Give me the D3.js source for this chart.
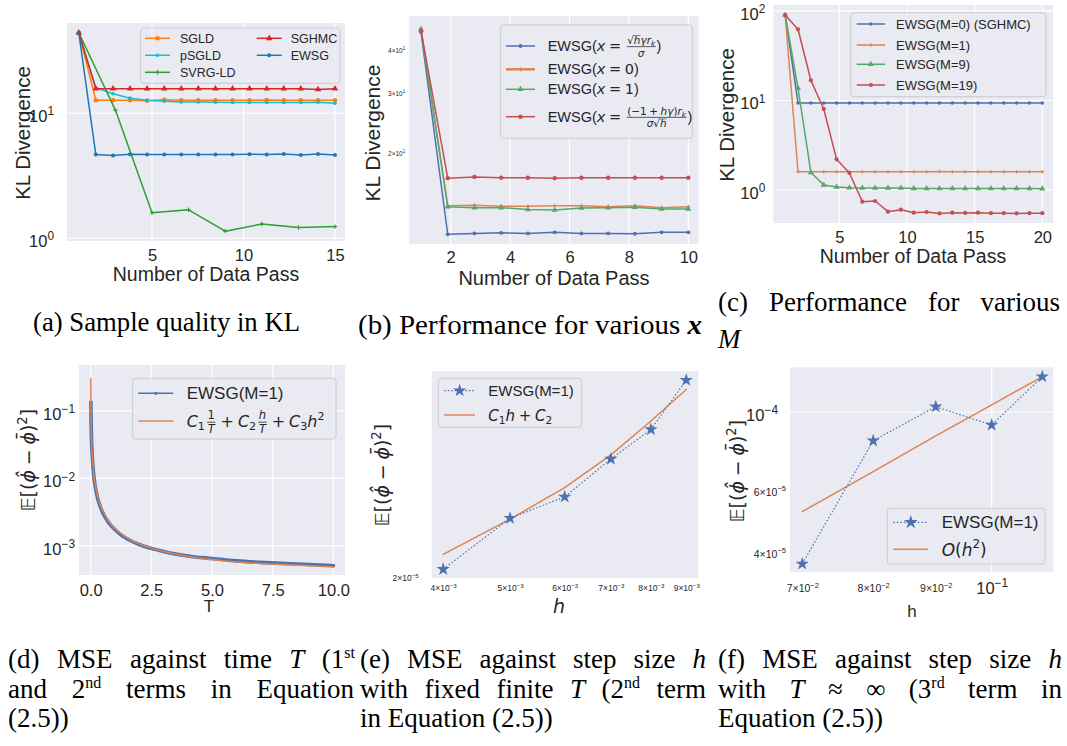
<!DOCTYPE html>
<html><head><meta charset="utf-8">
<script src="https://cdn.jsdelivr.net/npm/d3@7"></script>
<style>
body{margin:0;background:#fff;}
svg text{white-space:pre;}
</style></head><body>
<svg id="fig" width="1067" height="746" style="background:#fff"></svg>
<script>
// ================= DATA =================
// (a) Sample quality in KL
const passA = [1, 1.93, 2.87, 3.8, 4.73, 5.67, 6.6, 7.53, 8.47, 9.4, 10.33, 11.27, 12.2, 13.13, 14.07, 15];
const namesA = ["SGLD", "pSGLD", "SVRG-LD", "SGHMC", "EWSG"];
const sgld  = [44, 12.7, 12.7, 12.7, 12.6, 12.8, 12.7, 12.7, 12.7, 12.7, 12.7, 12.75, 12.7, 12.7, 12.7, 12.7];
const psgld = [44, 16.0, 14.3, 13.2, 12.7, 12.5, 12.3, 12.3, 12.25, 12.2, 12.2, 12.2, 12.2, 12.2, 12.25, 12.0];
const passSvrg = [1, 3, 5, 7, 9, 11, 13, 15];
const svrgld = [44, 10.6, 1.60, 1.69, 1.14, 1.30, 1.22, 1.24];
const sghmc = [44, 15.7, 15.7, 15.7, 15.7, 15.7, 15.7, 15.7, 15.7, 15.7, 15.7, 15.7, 15.7, 15.7, 15.5, 15.7];
const ewsgA = [44, 4.67, 4.6, 4.7, 4.67, 4.67, 4.67, 4.67, 4.67, 4.67, 4.7, 4.67, 4.73, 4.63, 4.73, 4.63];
const ticksAx = [5, 10, 15];
const ticksAy = [1, 10];

// (b) Performance for various x
const passB = [1, 1.9, 2.8, 3.7, 4.6, 5.5, 6.4, 7.3, 8.2, 9.1, 10];
const xOpt   = [45.0, 11.51, 11.58, 11.62, 11.58, 11.66, 11.58, 11.58, 11.55, 11.66, 11.66];
const xZero  = [46.1, 13.95, 13.99, 13.90, 13.90, 13.95, 13.95, 13.86, 13.95, 13.77, 13.86];
const xOne   = [45.7, 13.86, 13.77, 13.77, 13.61, 13.56, 13.73, 13.77, 13.82, 13.65, 13.65];
const xOther = [45.3, 16.80, 16.94, 16.84, 16.84, 16.80, 16.84, 16.84, 16.84, 16.84, 16.84];
const ticksBx = [2, 4, 6, 8, 10];
const ticksBy = [20, 30, 40];

// (c) Performance for various M
const passC = [1, 1.95, 2.9, 3.85, 4.8, 5.75, 6.7, 7.65, 8.6, 9.55, 10.5, 11.45, 12.4, 13.35, 14.3, 15.25, 16.2, 17.15, 18.1, 19.05, 20];
const namesC = ["EWSG(M=0) (SGHMC)", "EWSG(M=1)", "EWSG(M=9)", "EWSG(M=19)"];
const m0  = [90.2, 9.38, 9.38, 9.38, 9.38, 9.38, 9.38, 9.38, 9.38, 9.38, 9.38, 9.38, 9.38, 9.38, 9.38, 9.38, 9.38, 9.38, 9.38, 9.38, 9.38];
const m1  = [90.2, 1.60, 1.60, 1.60, 1.60, 1.60, 1.60, 1.60, 1.60, 1.60, 1.60, 1.60, 1.61, 1.60, 1.60, 1.60, 1.60, 1.60, 1.60, 1.60, 1.60];
const m9  = [90.2, 13.7, 1.57, 1.14, 1.08, 1.06, 1.05, 1.05, 1.05, 1.05, 1.04, 1.04, 1.04, 1.04, 1.04, 1.04, 1.04, 1.04, 1.04, 1.04, 1.03];
const m19 = [90.2, 62.4, 16.8, 8.04, 2.20, 1.55, 0.741, 0.754, 0.573, 0.603, 0.558, 0.568, 0.548, 0.558, 0.555, 0.558, 0.551, 0.551, 0.548, 0.551, 0.551];
const ticksCx = [5, 10, 15, 20];
const ticksCy = [1, 10, 100];

// (d) MSE against time T
const tD = [0.01, 0.02, 0.03, 0.05, 0.075, 0.1, 0.15, 0.2, 0.3, 0.4, 0.5, 0.75, 1, 1.25, 1.5, 2, 2.5, 3, 3.5, 4, 5, 6, 7, 8, 9, 10];
const ewsgT = [0.135, 0.069, 0.046, 0.028, 0.019, 0.0142, 0.0095, 0.0072, 0.0049, 0.0038, 0.0031, 0.0022, 0.00175, 0.00146, 0.00128, 0.00105, 0.00092, 0.00083, 0.00076, 0.00071, 0.00065, 0.00060, 0.00057, 0.00055, 0.00053, 0.00051];
const tFit = [0.0045, 0.01, 0.02, 0.03, 0.05, 0.075, 0.1, 0.15, 0.2, 0.3, 0.4, 0.5, 0.75, 1, 1.25, 1.5, 2, 2.5, 3, 3.5, 4, 5, 6, 7, 8, 9, 10];
const fitT = [0.30, 0.14, 0.071, 0.048, 0.029, 0.0198, 0.0149, 0.0100, 0.0076, 0.0052, 0.0040, 0.0033, 0.0023, 0.00182, 0.00152, 0.00132, 0.00107, 0.00093, 0.00083, 0.00076, 0.00070, 0.00063, 0.00058, 0.00055, 0.00053, 0.00051, 0.00049];
const ticksDx = [0, 2.5, 5, 7.5, 10];
const ticksDy = [1e-3, 1e-2, 1e-1];

// (e) MSE against step size h, finite T
const hE = [0.004, 0.005, 0.006, 0.007, 0.008, 0.009];
const ewsgH = [2.029e-5, 2.238e-5, 2.332e-5, 2.508e-5, 2.654e-5, 2.918e-5];
const fitH  = [2.088e-5, 2.234e-5, 2.374e-5, 2.528e-5, 2.698e-5, 2.866e-5];
const ticksEx = [0.004, 0.005, 0.006, 0.007, 0.008, 0.009];
const ticksEy = [2e-5];

// (f) MSE against step size h, T ~ infinity
const hF = [0.07, 0.08, 0.09, 0.10, 0.11];
const ewsgHF = [3.71e-5, 8.3e-5, 1.037e-4, 9.2e-5, 1.262e-4];
const oh2    = [5.22e-5, 6.78e-5, 8.57e-5, 1.05e-4, 1.262e-4];
const ticksFxMinor = [0.07, 0.08, 0.09];
const ticksFxMajor = [0.1];
const ticksFyMinor = [4e-5, 6e-5];
const ticksFyMajor = [1e-4];

// ================= DRAWING =================
const svg = d3.select("#fig");
const INK = "#262626";
const SANS = "'Liberation Sans', Arial, sans-serif";
const MATH = "'DejaVu Sans', sans-serif";
const SERIF = "'Liberation Serif', 'Times New Roman', serif";
const BG = "#eaeaf2";
const TAB = {blue:"#1f77b4", orange:"#ff7f0e", green:"#2ca02c", red:"#d62728", cyan:"#17becf"};
const DEEP = {blue:"#4c72b0", orange:"#dd8452", green:"#55a868", red:"#c44e52"};
const SP = "\u2005";

function panelBg(b) {
  svg.append("rect").attr("x", b.x0).attr("y", b.y0).attr("width", b.x1 - b.x0).attr("height", b.y1 - b.y0).attr("fill", BG);
}
function gridLines(b, xs, xv, ys, yv) {
  const g = svg.append("g").attr("stroke", "#fff").attr("stroke-width", 1.2);
  xv.forEach(v => g.append("line").attr("x1", xs(v)).attr("x2", xs(v)).attr("y1", b.y0).attr("y2", b.y1));
  yv.forEach(v => g.append("line").attr("y1", ys(v)).attr("y2", ys(v)).attr("x1", b.x0).attr("x2", b.x1));
}
function styleAxis(g, fs) {
  g.select(".domain").remove();
  g.attr("font-family", SANS).attr("font-size", fs).attr("color", INK);
  return g;
}
function xAxis(xs, y, vals, fmt, pad, fs) {
  const g = svg.append("g").attr("transform", `translate(0,${y})`)
    .call(d3.axisBottom(xs).tickValues(vals).tickSize(0).tickPadding(pad).tickFormat(fmt));
  return styleAxis(g, fs);
}
function yAxis(ys, x, vals, fmt, pad, fs) {
  const g = svg.append("g").attr("transform", `translate(${x},0)`)
    .call(d3.axisLeft(ys).tickValues(vals).tickSize(0).tickPadding(pad).tickFormat(fmt));
  return styleAxis(g, fs);
}
function splitPow(d) {
  const e = Math.floor(Math.log10(d) + 1e-9);
  const m = Math.round(d / Math.pow(10, e));
  return [m === 1 ? "" : String(m), e < 0 ? "\u2212" + (-e) : String(e)];
}
function pow10(g, dy) {
  g.selectAll(".tick text").each(function(d) {
    const t = d3.select(this);
    const [m, e] = splitPow(d);
    t.text(null);
    t.append("tspan").text((m ? m + "\u00d7" : "") + "10");
    t.append("tspan").attr("dy", "-0.55em").attr("font-size", "0.72em").text(e);
    if (dy) t.attr("dy", dy);
  });
}
function marker(parent, type, x, y, color, s) {
  if (type === "o") parent.append("circle").attr("cx", x).attr("cy", y).attr("r", s).attr("fill", color);
  else if (type === "+") parent.append("path").attr("d", `M${x - s},${y}H${x + s}M${x},${y - s}V${y + s}`)
    .attr("stroke", color).attr("stroke-width", 1.1).attr("fill", "none");
  else {
    const sym = type === "^" ? d3.symbolTriangle : d3.symbolStar;
    parent.append("path").attr("d", d3.symbol().type(sym).size(s)()).attr("transform", `translate(${x},${y})`).attr("fill", color);
  }
}
function series(xs, ys, xv, yv, color, o) {
  const pts = xv.map((x, i) => [x, yv[i]]);
  const line = d3.line().x(d => xs(d[0])).y(d => ys(d[1]));
  if (o.curve) line.curve(o.curve);
  svg.append("path").attr("d", line(pts)).attr("fill", "none").attr("stroke", color)
    .attr("stroke-width", o.lw || 1.5).attr("stroke-dasharray", o.dash || null)
    .attr("stroke-linejoin", "round").attr("stroke-linecap", o.dash ? "butt" : "round");
  if (o.mk) pts.forEach(p => marker(svg, o.mk, xs(p[0]), ys(p[1]), color, o.ms));
}
function legendBox(x0, y0, x1, y1) {
  svg.append("rect").attr("x", x0).attr("y", y0).attr("width", x1 - x0).attr("height", y1 - y0)
    .attr("rx", 3).attr("fill", BG).attr("fill-opacity", 0.85).attr("stroke", "#cccccc").attr("stroke-width", 1);
}
function legendEntry(lx0, lx1, y, color, mk, ms, dash, lw) {
  svg.append("line").attr("x1", lx0).attr("x2", lx1).attr("y1", y).attr("y2", y).attr("stroke", color)
    .attr("stroke-width", lw || 1.5).attr("stroke-dasharray", dash || null);
  if (mk) marker(svg, mk, (lx0 + lx1) / 2, y, color, ms);
}
function label(x, y, txt, fs, opts) {
  opts = opts || {};
  const t = svg.append("text").attr("x", x).attr("y", y).attr("font-size", fs)
    .attr("font-family", opts.f || SANS).attr("fill", INK).attr("text-anchor", opts.anchor || "start")
    .attr("dy", opts.dy || "0.35em").text(txt);
  if (opts.rot) t.attr("transform", `rotate(-90,${x},${y})`);
  if (opts.i) t.attr("font-style", "italic");
  return t;
}
// simple math layout
function seq(g, x, y, pcs, fs, fam) {
  fam = fam || MATH;
  let cx = x;
  pcs.forEach(p0 => {
    const p = (typeof p0 === "string") ? {t: p0} : p0;
    if (p.t !== undefined || p.sub !== undefined || p.sup !== undefined) {
      let s = fs, yy = y, txt = p.t;
      if (p.sub !== undefined) { s = fs * 0.7; yy = y + fs * 0.2; txt = p.sub; }
      if (p.sup !== undefined) { s = fs * 0.7; yy = y - fs * 0.42; txt = p.sup; }
      const t = g.append("text").attr("x", cx).attr("y", yy).attr("font-size", s)
        .attr("font-family", p.f || fam).attr("fill", INK).text(txt);
      if (p.i) t.attr("font-style", "italic");
      cx += t.node().getComputedTextLength();
    } else if (p.frac) {
      cx += fs * 0.1;
      const s = fs * 0.72;
      const gn = g.append("g"), gd = g.append("g");
      const wn = seq(gn, 0, 0, p.frac[0], s, fam), wd = seq(gd, 0, 0, p.frac[1], s, fam);
      const w = Math.max(wn, wd) + fs * 0.12;
      const bar = y - fs * 0.3;
      gn.attr("transform", `translate(${cx + (w - wn) / 2},${bar - s * 0.26})`);
      gd.attr("transform", `translate(${cx + (w - wd) / 2},${bar + s * 0.95})`);
      g.append("line").attr("x1", cx + fs * 0.03).attr("x2", cx + w - fs * 0.03).attr("y1", bar).attr("y2", bar)
        .attr("stroke", INK).attr("stroke-width", Math.max(0.6, fs * 0.05));
      cx += w + fs * 0.04;
    } else if (p.sqrt) {
      const t = g.append("text").attr("x", cx).attr("y", y).attr("font-size", fs).attr("font-family", fam).attr("fill", INK).text("\u221a");
      const ws = t.node().getComputedTextLength();
      const wi = seq(g, cx + ws, y, p.sqrt, fs, fam);
      g.append("line").attr("x1", cx + ws * 0.85).attr("x2", cx + ws + wi).attr("y1", y - fs * 0.8).attr("y2", y - fs * 0.8)
        .attr("stroke", INK).attr("stroke-width", Math.max(0.5, fs * 0.05));
      cx += ws + wi;
    }
  });
  return cx - x;
}
function mathAt(x, y, pcs, fs) {
  const g = svg.append("g");
  seq(g, x, y, pcs, fs);
  return g;
}
function mathRotated(cx, cy, pcs, fs) {
  const outer = svg.append("g").attr("transform", `translate(${cx},${cy}) rotate(-90)`);
  const inner = outer.append("g");
  const w = seq(inner, 0, 0, pcs, fs);
  inner.attr("transform", `translate(${-w / 2},${fs * 0.35})`);
}
const mseLabel = [{t: "\ud835\udd3c"}, {t: "[("}, {t: "\u03d5\u0302", i: true}, {t: SP + "\u2212" + SP}, {t: "\u03d5\u0304", i: true}, {t: ")"}, {sup: "2"}, {t: "]"}];
const plus = SP + "+" + SP;

// ---------- (a) ----------
{
  const B = {x0: 67, x1: 345, y0: 23, y1: 241};
  const xs = d3.scaleLinear().domain([0.355, 15.546]).range([B.x0, B.x1]);
  const ys = d3.scaleLog().domain([0.951, 52.7]).range([B.y1, B.y0]);
  panelBg(B);
  gridLines(B, xs, ticksAx, ys, ticksAy);
  xAxis(xs, B.y1, ticksAx, d3.format("d"), 8, 16.5);
  pow10(yAxis(ys, B.x0, ticksAy, d => d, 13, 16.5), "0.5em");
  series(xs, ys, passA, sgld, TAB.orange, {mk: "o", ms: 2.3});
  series(xs, ys, passA, psgld, TAB.cyan, {mk: "o", ms: 1.8});
  series(xs, ys, passSvrg, svrgld, TAB.green, {mk: "+", ms: 2.2});
  series(xs, ys, passA, sghmc, TAB.red, {mk: "^", ms: 18});
  series(xs, ys, passA, ewsgA, TAB.blue, {mk: "o", ms: 2});
  label(23, 133, "KL Divergence", 20.5, {rot: true, anchor: "middle"});
  label(206, 274, "Number of Data Pass", 19.5, {anchor: "middle"});
  legendBox(140.7, 28, 340, 83.3);
  const colsA = [TAB.orange, TAB.cyan, TAB.green, TAB.red, TAB.blue];
  const mkA = [["o", 2.3], ["o", 1.8], ["+", 2.2], ["^", 18], ["o", 2]];
  const posA = [[145, 170, 180, 38.3], [145, 170, 180, 55.3], [145, 170, 180, 72.3], [256.7, 281.7, 290.7, 38.3], [256.7, 281.7, 290.7, 55.3]];
  namesA.forEach((n, i) => {
    const p = posA[i];
    legendEntry(p[0], p[1], p[3], colsA[i], mkA[i][0], mkA[i][1]);
    label(p[2], p[3], n, 12.5);
  });
}

// ---------- (b) ----------
{
  const B = {x0: 409.3, x1: 698.5, y0: 16, y1: 244};
  const xs = d3.scaleLinear().domain([0.606, 10.343]).range([B.x0, B.x1]);
  const ys = d3.scaleLog().domain([10.78, 50.1]).range([B.y1, B.y0]);
  panelBg(B);
  gridLines(B, xs, ticksBx, ys, []);
  xAxis(xs, B.y1, ticksBx, d3.format("d"), 7.5, 16.5);
  pow10(yAxis(ys, B.x0, ticksBy, d => d, 4, 6.5), "0.45em");
  series(xs, ys, passB, xOpt, DEEP.blue, {mk: "o", ms: 1.9});
  series(xs, ys, passB, xZero, DEEP.orange, {mk: "+", ms: 2});
  series(xs, ys, passB, xOne, DEEP.green, {mk: "^", ms: 16});
  series(xs, ys, passB, xOther, DEEP.red, {mk: "o", ms: 2.2});
  label(373, 133, "KL Divergence", 21, {rot: true, anchor: "middle"});
  label(554, 278, "Number of Data Pass", 20, {anchor: "middle"});
  legendBox(500.7, 25, 692.3, 138.3);
  const fsB = 14.5;
  const rowsB = [46, 69.3, 89.3, 116.7];
  legendEntry(506, 535, rowsB[0], DEEP.blue, "o", 1.9);
  legendEntry(506, 535, rowsB[1], DEEP.orange, "+", 2, null, 2.5);
  legendEntry(506, 535, rowsB[2], DEEP.green, "^", 16);
  legendEntry(506, 535, rowsB[3], DEEP.red, "o", 2.2);
  const ew = {t: "EWSG(", f: SANS}, cp = {t: ")", f: SANS}, xi = {t: "x", i: true};
  const eq = SP + "=" + SP;
  mathAt(547.7, rowsB[0] + 5, [ew, xi, eq, {frac: [[{sqrt: [{t: "h", i: true}]}, {t: "\u03b3", i: true}, {t: "r", i: true}, {sub: "k", i: true}], [{t: "\u03c3", i: true}]]}, cp], fsB);
  mathAt(547.7, rowsB[1] + 5, [ew, xi, eq + "0", cp], fsB);
  mathAt(547.7, rowsB[2] + 5, [ew, xi, eq + "1", cp], fsB);
  mathAt(547.7, rowsB[3] + 5, [ew, xi, eq, {frac: [["(\u22121" + plus, {t: "h\u03b3", i: true}, ")", {t: "r", i: true}, {sub: "k", i: true}], [{t: "\u03c3", i: true}, {sqrt: [{t: "h", i: true}]}]]}, cp], fsB);
}

// ---------- (c) ----------
{
  const B = {x0: 773.3, x1: 1053, y0: 5, y1: 223};
  const xs = d3.scaleLinear().domain([0.123, 20.79]).range([B.x0, B.x1]);
  const ys = d3.scaleLog().domain([0.428, 116.6]).range([B.y1, B.y0]);
  panelBg(B);
  gridLines(B, xs, ticksCx, ys, ticksCy);
  xAxis(xs, B.y1, ticksCx, d3.format("d"), 8, 16.5);
  pow10(yAxis(ys, B.x0, ticksCy, d => d, 8, 16.5), "0.5em");
  const colsC = [DEEP.blue, DEEP.orange, DEEP.green, DEEP.red];
  const mkC = [["o", 1.8], ["+", 1.8], ["^", 16], ["o", 2.1]];
  [m0, m1, m9, m19].forEach((s, i) => series(xs, ys, passC, s, colsC[i], {mk: mkC[i][0], ms: mkC[i][1]}));
  label(727, 115, "KL Divergence", 20.5, {rot: true, anchor: "middle"});
  label(913, 256, "Number of Data Pass", 19.5, {anchor: "middle"});
  legendBox(850.7, 12.7, 1046, 96.7);
  const rowsC = [24, 45, 64.3, 85];
  namesC.forEach((n, i) => {
    legendEntry(856.7, 885, rowsC[i], colsC[i], mkC[i][0], mkC[i][1]);
    label(896, rowsC[i], n, 13);
  });
}

// ---------- (d) ----------
{
  const B = {x0: 79, x1: 345, y0: 365, y1: 575};
  const xs = d3.scaleLinear().domain([-0.48, 10.48]).range([B.x0, B.x1]);
  const ys = d3.scaleLog().domain([3.71e-4, 0.48]).range([B.y1, B.y0]);
  panelBg(B);
  gridLines(B, xs, ticksDx, ys, ticksDy);
  xAxis(xs, B.y1, ticksDx, d3.format(".1f"), 9, 16.5);
  pow10(yAxis(ys, B.x0, ticksDy, d => d, 4, 16.5), "0.5em");
  series(xs, ys, tD, ewsgT, DEEP.blue, {mk: "o", ms: 1.7, lw: 3.6, curve: d3.curveMonotoneX});
  series(xs, ys, tFit, fitT, DEEP.orange, {lw: 1.5, curve: d3.curveMonotoneX});
  mathRotated(28, 460, mseLabel, 19);
  label(209, 606, "T", 17, {anchor: "middle"});
  legendBox(132.7, 378.3, 336, 439);
  legendEntry(138.3, 173.3, 393.3, DEEP.blue, "o", 1.6);
  legendEntry(138.3, 173.3, 421, DEEP.orange, null);
  label(186.7, 393.3, "EWSG(M=1)", 17);
  mathAt(186.7, 427, [{t: "C", i: true}, {sub: "1"}, {frac: [["1"], [{t: "T", i: true}]]}, plus, {t: "C", i: true}, {sub: "2"}, {frac: [[{t: "h", i: true}], [{t: "T", i: true}]]}, plus, {t: "C", i: true}, {sub: "3"}, {t: "h", i: true}, {sup: "2"}], 16);
}

// ---------- (e) ----------
{
  const B = {x0: 431.7, x1: 698.3, y0: 371, y1: 578.3};
  const xs = d3.scaleLog().domain([3.85e-3, 9.37e-3]).range([B.x0, B.x1]);
  const ys = d3.scaleLog().domain([1.994e-5, 2.970e-5]).range([B.y1, B.y0]);
  panelBg(B);
  pow10(xAxis(xs, B.y1, ticksEx, d => d, 7, 8.5));
  pow10(yAxis(ys, B.x0, ticksEy, d => d, 13, 8.5), "0.45em");
  series(xs, ys, hE, fitH, DEEP.orange, {lw: 1.5});
  series(xs, ys, hE, ewsgH, DEEP.blue, {mk: "*", ms: 55, dash: "1.5,2", lw: 1.2});
  mathRotated(382, 475, mseLabel, 19);
  label(559, 606, "h", 19, {anchor: "middle", f: MATH, i: true});
  legendBox(438.3, 378.3, 581.7, 427.3);
  legendEntry(444.3, 475, 390.7, DEEP.blue, "*", 55, "1.5,2", 1.2);
  legendEntry(444.3, 475, 415, DEEP.orange, null);
  label(488.3, 390.7, "EWSG(M=1)", 15);
  mathAt(488.3, 420.5, [{t: "C", i: true}, {sub: "1"}, {t: "h", i: true}, plus, {t: "C", i: true}, {sub: "2"}], 15);
}

// ---------- (f) ----------
{
  const B = {x0: 790, x1: 1053.3, y0: 367.3, y1: 572.3};
  const xs = d3.scaleLog().domain([0.0684, 0.1123]).range([B.x0, B.x1]);
  const ys = d3.scaleLog().domain([3.51e-5, 1.342e-4]).range([B.y1, B.y0]);
  panelBg(B);
  gridLines(B, xs, ticksFxMajor, ys, ticksFyMajor);
  pow10(xAxis(xs, B.y1, ticksFxMinor, d => d, 12, 10.5));
  pow10(xAxis(xs, B.y1, ticksFxMajor, d => d, 10, 16.5));
  pow10(yAxis(ys, B.x0, ticksFyMinor, d => d, 4, 10.5), "0.45em");
  pow10(yAxis(ys, B.x0, ticksFyMajor, d => d, 12, 16.5), "0.5em");
  series(xs, ys, hF, oh2, DEEP.orange, {lw: 1.5});
  series(xs, ys, hF, ewsgHF, DEEP.blue, {mk: "*", ms: 55, dash: "1.5,2", lw: 1.2});
  mathRotated(737, 471, mseLabel, 19);
  label(912, 611, "h", 17, {anchor: "middle"});
  legendBox(887.3, 508.3, 1045, 564);
  legendEntry(893.3, 928.3, 522.3, DEEP.blue, "*", 60, "1.5,2", 1.2);
  legendEntry(893.3, 928.3, 549.3, DEEP.orange, null);
  label(941.7, 522.3, "EWSG(M=1)", 17);
  mathAt(941.7, 555.5, [{t: "O", i: true}, "(", {t: "h", i: true}, {sup: "2"}, ")"], 17);
}

// ---------- captions ----------
function caption(x, y, parts, target, mode) {
  const t = svg.append("text").attr("x", x).attr("y", y).attr("font-family", SERIF).attr("font-size", 27).attr("fill", "#000");
  let raised = false, full = "";
  parts.forEach(p => {
    const s = t.append("tspan").text(p.t);
    full += p.t;
    if (p.i) s.attr("font-style", "italic");
    if (p.b) s.attr("font-weight", "bold");
    if (p.sup) { s.attr("dy", -10).attr("font-size", 16); raised = true; }
    else if (raised) { s.attr("dy", 10); raised = false; }
  });
  if (target) {
    if (mode === "squeeze") t.attr("textLength", target).attr("lengthAdjust", "spacingAndGlyphs");
    else {
      const w = t.node().getComputedTextLength();
      const n = (full.match(/ /g) || []).length;
      if (n > 0) t.attr("word-spacing", (target - w) / n);
    }
  }
}
caption(33, 331, [{t: "(a) Sample quality in KL"}], 267, "squeeze");
caption(358, 334, [{t: "(b) Performance for various "}, {t: "x", i: true, b: true}], 344, "squeeze");
caption(718, 311, [{t: "(c) Performance for various"}], 342);
caption(718, 348, [{t: "M", i: true}]);
caption(8, 668, [{t: "(d) MSE against time "}, {t: "T", i: true}, {t: " (1"}, {t: "st", sup: true}], 347);
caption(8, 698, [{t: "and 2"}, {t: "nd", sup: true}, {t: " terms in Equation"}], 346);
caption(8, 727, [{t: "(2.5))"}]);
caption(360, 668, [{t: "(e) MSE against step size "}, {t: "h", i: true}], 346);
caption(360, 698, [{t: "with fixed finite "}, {t: "T", i: true}, {t: " (2"}, {t: "nd", sup: true}, {t: " term"}], 346);
caption(360, 727, [{t: "in Equation (2.5))"}]);
caption(718, 668, [{t: "(f) MSE against step size "}, {t: "h", i: true}], 344);
caption(718, 698, [{t: "with "}, {t: "T", i: true}, {t: " \u2248 \u221e (3"}, {t: "rd", sup: true}, {t: " term in"}], 344);
caption(718, 727, [{t: "Equation (2.5))"}]);
</script>
</body></html>
